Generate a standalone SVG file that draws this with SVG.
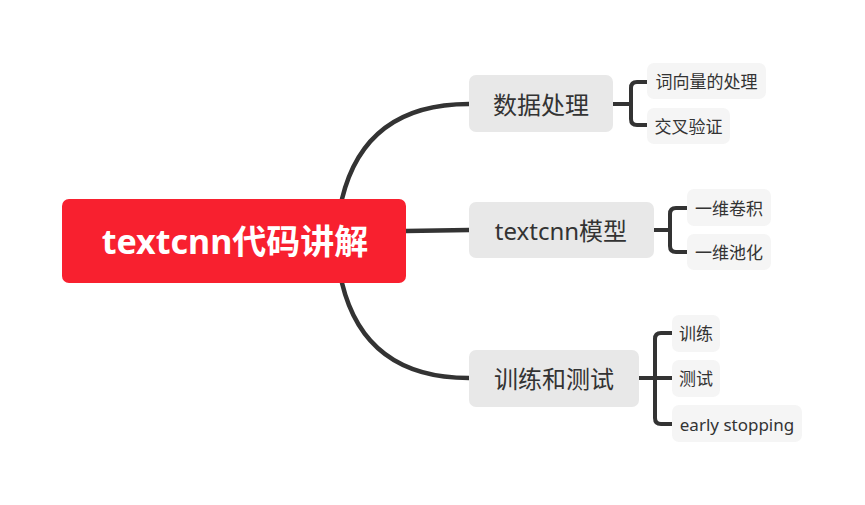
<svg xmlns="http://www.w3.org/2000/svg" width="865" height="505" viewBox="0 0 865 505">
<style>
text{font-family:"Noto Sans","Noto Sans CJK SC",sans-serif;dominant-baseline:central;text-anchor:middle;fill:#333333}
.conn{fill:none;stroke:#333333;stroke-width:4.5;stroke-linecap:round}
.br{fill:none;stroke:#333333;stroke-width:4}
.main{fill:#E8E8E8}
.sub{fill:#F5F5F5}
.mt{font-size:24px}
.st{font-size:17px}
</style>
<rect width="865" height="505" fill="#ffffff"/>
<g id="connectors">
<path class="conn" d="M342,199 Q365,104 469,104"/>
<path class="conn" d="M406,231 L469,230"/>
<path class="conn" d="M342,283 Q365,378 469,378"/>
<path class="br" d="M613,104 H631"/>
<path class="br" d="M647,82 H637 Q631,82 631,88 V119 Q631,125 637,125 H647"/>
<path class="br" d="M654,230 H670"/>
<path class="br" d="M687,208 H676 Q670,208 670,214 V246 Q670,252 676,252 H687"/>
<path class="br" d="M639,378 H672"/>
<path class="br" d="M672,333 H661 Q655,333 655,339 V418 Q655,424 661,424 H672"/>
</g>
<g id="root">
<rect x="62" y="199" width="344" height="84" rx="7" fill="#F8202F"/>
<text x="235" y="241" style="font-size:34px;font-weight:bold;fill:#ffffff">textcnn代码讲解</text>
</g>
<g id="n1">
<rect class="main" x="469" y="75" width="144" height="57" rx="7"/>
<text class="mt" x="541" y="104">数据处理</text>
</g>
<g id="n2">
<rect class="main" x="469" y="202" width="185" height="56" rx="7"/>
<text class="mt" x="561" y="230">textcnn模型</text>
</g>
<g id="n3">
<rect class="main" x="469" y="350" width="170" height="57" rx="7"/>
<text class="mt" x="554" y="378">训练和测试</text>
</g>
<g id="n1a">
<rect class="sub" x="647" y="63" width="119" height="36" rx="7"/>
<text class="st" x="706.5" y="81">词向量的处理</text>
</g>
<g id="n1b">
<rect class="sub" x="647" y="108" width="83" height="36" rx="7"/>
<text class="st" x="688.5" y="126">交叉验证</text>
</g>
<g id="n2a">
<rect class="sub" x="687" y="189" width="84" height="37" rx="7"/>
<text class="st" x="729" y="208">一维卷积</text>
</g>
<g id="n2b">
<rect class="sub" x="687" y="234" width="84" height="36" rx="7"/>
<text class="st" x="729" y="252">一维池化</text>
</g>
<g id="n3a">
<rect class="sub" x="672" y="315" width="48" height="37" rx="7"/>
<text class="st" x="696" y="333">训练</text>
</g>
<g id="n3b">
<rect class="sub" x="672" y="360" width="48" height="37" rx="7"/>
<text class="st" x="696" y="378">测试</text>
</g>
<g id="n3c">
<rect class="sub" x="672" y="405" width="130" height="37" rx="7"/>
<text class="st" x="737" y="424">early stopping</text>
</g>
</svg>
